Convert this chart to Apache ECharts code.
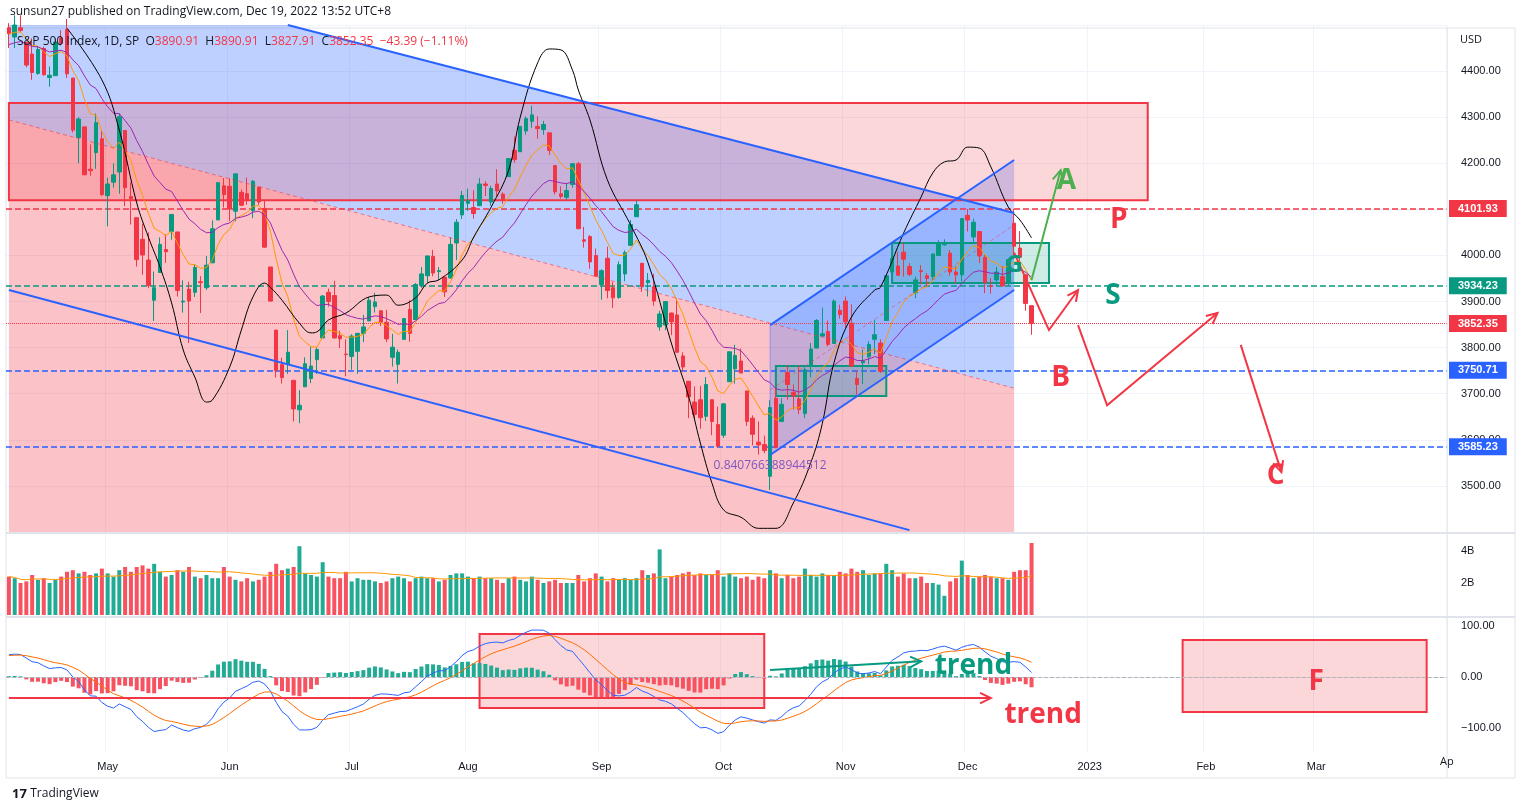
<!DOCTYPE html>
<html><head><meta charset="utf-8">
<script src="https://cdn.jsdelivr.net/npm/echarts@6/dist/echarts.min.js"></script>
<style>html,body{margin:0;padding:0;background:#fff}#c{width:1526px;height:811px}</style>
</head><body><div id="c"></div>
<script>
const dates=['2022-04-06','2022-04-07','2022-04-08','2022-04-11','2022-04-12','2022-04-13','2022-04-14','2022-04-18','2022-04-19','2022-04-20','2022-04-21','2022-04-22','2022-04-25','2022-04-26','2022-04-27','2022-04-28','2022-04-29',
'2022-05-02','2022-05-03','2022-05-04','2022-05-05','2022-05-06','2022-05-09','2022-05-10','2022-05-11','2022-05-12','2022-05-13','2022-05-16','2022-05-17','2022-05-18','2022-05-19','2022-05-20','2022-05-23','2022-05-24','2022-05-25','2022-05-26','2022-05-27','2022-05-31',
'2022-06-01','2022-06-02','2022-06-03','2022-06-06','2022-06-07','2022-06-08','2022-06-09','2022-06-10','2022-06-13','2022-06-14','2022-06-15','2022-06-16','2022-06-17','2022-06-21','2022-06-22','2022-06-23','2022-06-24','2022-06-27','2022-06-28','2022-06-29','2022-06-30',
'2022-07-01','2022-07-05','2022-07-06','2022-07-07','2022-07-08','2022-07-11','2022-07-12','2022-07-13','2022-07-14','2022-07-15','2022-07-18','2022-07-19','2022-07-20','2022-07-21','2022-07-22','2022-07-25','2022-07-26','2022-07-27','2022-07-28','2022-07-29',
'2022-08-01','2022-08-02','2022-08-03','2022-08-04','2022-08-05','2022-08-08','2022-08-09','2022-08-10','2022-08-11','2022-08-12','2022-08-15','2022-08-16','2022-08-17','2022-08-18','2022-08-19','2022-08-22','2022-08-23','2022-08-24','2022-08-25','2022-08-26','2022-08-29','2022-08-30','2022-08-31',
'2022-09-01','2022-09-02','2022-09-06','2022-09-07','2022-09-08','2022-09-09','2022-09-12','2022-09-13','2022-09-14','2022-09-15','2022-09-16','2022-09-19','2022-09-20','2022-09-21','2022-09-22','2022-09-23','2022-09-26','2022-09-27','2022-09-28','2022-09-29','2022-09-30',
'2022-10-03','2022-10-04','2022-10-05','2022-10-06','2022-10-07','2022-10-10','2022-10-11','2022-10-12','2022-10-13','2022-10-14','2022-10-17','2022-10-18','2022-10-19','2022-10-20','2022-10-21','2022-10-24','2022-10-25','2022-10-26','2022-10-27','2022-10-28','2022-10-31',
'2022-11-01','2022-11-02','2022-11-03','2022-11-04','2022-11-07','2022-11-08','2022-11-09','2022-11-10','2022-11-11','2022-11-14','2022-11-15','2022-11-16','2022-11-17','2022-11-18','2022-11-21','2022-11-22','2022-11-23','2022-11-25','2022-11-28','2022-11-29','2022-11-30',
'2022-12-01','2022-12-02','2022-12-05','2022-12-06','2022-12-07','2022-12-08','2022-12-09','2022-12-12','2022-12-13','2022-12-14','2022-12-15','2022-12-16'];
const opens=[4494,4474,4494,4462,4437,4395,4449,4386,4390,4472,4490,4385,4256,4279,4187,4223,4253,
4130,4159,4181,4271,4128,4082,4035,3990,3903,3963,4013,4052,4051,3899,3927,3920,3943,3930,3984,4077,4151,
4150,4096,4137,4134,4097,4148,4102,3975,3838,3763,3764,3729,3665,3715,3733,3774,3821,3920,3913,3826,3786,
3781,3792,3831,3858,3889,3880,3855,3779,3764,3818,3883,3861,3935,3956,3998,3965,3953,3951,4027,4088,
4113,4104,4108,4155,4116,4155,4133,4171,4228,4225,4270,4291,4280,4273,4266,4195,4134,4126,4154,4199,4034,4041,4000,
3937,3994,3930,3909,3960,4022,4084,3983,3941,3932,3845,3849,3875,3871,3782,3727,3682,3687,3651,3687,3633,
3610,3726,3754,3771,3706,3647,3595,3590,3521,3690,3640,3746,3703,3689,3657,3762,3799,3825,3835,3809,3881,
3901,3853,3733,3767,3780,3818,3810,3859,3964,3977,4007,3976,3919,3967,3956,3954,4000,4023,4005,3964,3958,
4087,4040,4052,3996,3934,3947,3954,3939,4070,4016,3958,3891];
const highs=[4504,4521,4521,4464,4471,4453,4453,4410,4471,4489,4513,4385,4300,4279,4241,4308,4270,
4169,4200,4308,4271,4158,4082,4069,4050,3965,4039,4046,4090,4051,3946,3943,3981,3955,3999,4076,4158,4168,
4167,4177,4143,4169,4164,4150,4120,3975,3838,3778,3838,3729,3708,3779,3802,3801,3914,3928,3945,3837,3818,
3829,3832,3871,3910,3919,3880,3882,3830,3796,3864,3903,3940,3975,3999,4012,3975,3953,4039,4079,4140,
4145,4141,4168,4161,4151,4187,4137,4211,4258,4280,4302,4325,4302,4292,4266,4195,4150,4157,4200,4203,4062,4044,4015,
3970,4019,3942,3987,4011,4077,4119,3984,3962,3960,3880,3900,3876,3907,3790,3727,3716,3717,3736,3687,3672,
3680,3791,3806,3798,3706,3653,3640,3609,3686,3713,3690,3762,3720,3762,3757,3810,3862,3887,3859,3905,3893,
3911,3894,3750,3796,3814,3860,3818,3956,4001,4008,4028,3983,3954,3979,3962,4004,4033,4035,4012,3976,4080,
4101,4080,4052,4001,3951,3975,3977,3990,4101,4053,3958,3891];
const lows=[4450,4450,4485,4408,4381,4392,4390,4366,4390,4455,4385,4267,4200,4175,4173,4188,4129,
4063,4147,4134,4107,4067,3976,3958,3929,3858,3963,3984,4034,3911,3876,3810,3910,3875,3925,3984,4077,4104,
4074,4074,4107,4110,4081,4110,4017,3900,3735,3722,3743,3640,3636,3715,3723,3743,3821,3889,3820,3799,3738,
3752,3743,3812,3858,3876,3847,3812,3759,3722,3818,3813,3860,3930,3940,3955,3947,3910,3951,3990,4079,
4097,4080,4108,4129,4108,4128,4112,4171,4201,4225,4262,4277,4253,4262,4218,4132,4123,4121,4147,4057,4017,3971,3954,
3904,3907,3886,3906,3944,4022,4084,3921,3911,3891,3837,3838,3827,3789,3749,3647,3644,3624,3641,3610,3584,
3604,3726,3722,3745,3630,3588,3568,3571,3491,3582,3640,3687,3666,3656,3647,3736,3799,3824,3803,3809,3863,
3843,3758,3698,3721,3764,3786,3745,3859,3944,3957,3954,3955,3907,3937,3933,3947,3999,4021,3956,3938,3944,
4052,4026,3984,3918,3917,3935,3933,3935,3993,3966,3880,3828];
const closes=[4481,4500,4488,4413,4397,4447,4392,4391,4463,4460,4394,4272,4296,4175,4184,4288,4132,
4155,4175,4301,4147,4123,3991,4001,3935,3930,4024,4008,4089,3924,3901,3901,3974,3941,3979,4058,4158,4132,
4101,4177,4109,4121,4161,4116,4018,3901,3750,3735,3790,3667,3675,3765,3760,3796,3912,3900,3821,3819,3785,
3825,3831,3845,3903,3899,3855,3819,3801,3790,3863,3831,3937,3960,3999,3962,3967,3921,4024,4072,4130,
4119,4091,4155,4152,4145,4140,4122,4210,4208,4280,4297,4305,4275,4284,4228,4138,4128,4141,4199,4058,4031,3986,3955,
3967,3924,3908,3980,4006,4067,4110,3932,3946,3901,3873,3900,3856,3790,3758,3693,3655,3648,3720,3640,3586,
3678,3791,3783,3745,3640,3612,3589,3577,3670,3583,3677,3720,3695,3666,3752,3797,3859,3830,3807,3901,3872,
3856,3760,3720,3771,3807,3828,3749,3956,3993,3957,3992,3959,3947,3965,3950,4003,4027,4026,3964,3958,4080,
4077,4072,3999,3941,3933,3964,3934,3991,4020,3996,3896,3852.35];
const volumesB=[2.4,2.3,2.0,2.1,2.5,2.2,2.3,2.0,2.2,2.4,2.7,2.8,2.6,2.7,2.5,2.6,2.9,
2.6,2.4,2.8,3.0,2.7,3.0,3.1,2.9,3.2,2.7,2.4,2.5,2.8,2.7,3.0,2.4,2.3,2.5,2.3,2.3,3.0,
2.4,2.2,2.1,2.3,2.1,2.2,2.4,2.7,3.2,2.8,2.9,3.0,4.3,2.6,2.5,2.4,3.3,2.4,2.3,2.3,2.7,
2.1,2.3,2.2,2.2,2.1,2.0,2.1,2.3,2.4,2.3,2.1,2.3,2.4,2.3,2.3,2.1,2.2,2.5,2.6,2.6,
2.4,2.3,2.4,2.3,2.3,2.2,2.0,2.3,2.4,2.2,2.1,2.4,2.2,2.0,2.1,2.2,2.0,2.0,2.0,2.5,2.1,2.3,2.6,
2.4,2.1,2.3,2.2,2.3,2.2,2.3,2.8,2.5,2.6,4.1,2.3,2.4,2.5,2.6,2.7,2.5,2.6,2.5,2.5,2.8,
2.4,2.6,2.4,2.3,2.4,2.2,2.4,2.3,2.8,2.6,2.3,2.5,2.3,2.4,2.9,2.5,2.4,2.6,2.5,2.5,2.7,
2.6,2.9,2.7,2.8,2.5,2.6,2.6,3.2,2.8,2.4,2.6,2.3,2.3,2.4,2.0,2.0,1.9,1.2,2.1,2.3,3.4,
2.5,2.3,2.4,2.5,2.4,2.3,2.3,2.2,2.7,2.8,2.8,4.5];
// overlay black curve: [bar index, price]
const curve=[[10,4493],[16,4381],[19,4272],[22,4114],[24,4040],[26,3975],[28,3897],[30,3795],[32,3736],[34,3682],[35,3686],[38,3758],[40,3838],[42,3910],[44,3940],[45,3931],[47,3903],[50,3853],[52,3832],[53,3834],[55,3860],[58,3875],[62,3910],[65,3914],[67,3892],[70,3908],[72,3940],[74,3947],[78,3990],[80,4040],[83,4105],[86,4185],[88,4300],[91,4418],[93,4448],[95,4446],[97,4402],[98,4359],[100,4294],[103,4164],[107,4066],[110,3984],[114,3810],[117,3693],[119,3593],[121,3506],[123,3448],[126,3432],[129,3408],[132,3408],[135,3463],[138,3550],[140,3636],[142,3767],[145,3866],[149,3925],[150,3931],[154,4049],[157,4127],[159,4179],[161,4203],[163,4207],[165,4235],[167,4233],[169,4192],[172,4105],[174,4077],[176,4038]];
const levels=[{v:4101.93,c:'#f23645',t:'dashed',w:1.5},{v:3934.23,c:'#089981',t:'dashed',w:1.5},{v:3750.71,c:'#2962ff',t:'dashed',w:1.5},{v:3585.23,c:'#2962ff',t:'dashed',w:1.5},{v:3852.35,c:'#f23645',t:'dotted',w:1}];
const holidays=['2022-12-26','2023-01-02','2023-01-16','2023-02-20'];

const cats=dates.slice();
(function(){let d=new Date(Date.UTC(2022,11,19));while(cats.length<248){const s=d.toISOString().slice(0,10);const w=d.getUTCDay();if(w!==0&&w!==6&&holidays.indexOf(s)<0)cats.push(s);d=new Date(d.getTime()+86400000);}})();
const monthStart=i=>i===0?false:cats[i].slice(0,7)!==cats[i-1].slice(0,7);
const MN=['Jan','Feb','Mar','Apr','May','Jun','Jul','Aug','Sep','Oct','Nov','Dec'];

function ema(arr,n,seed){const k=2/(n+1);let p=seed;return arr.map(v=>(p=v*k+p*(1-k)));}
const ema9=ema(closes,9,4480), ema20=ema(closes,20,4455);
const e12=ema(closes,12,4440), e26=ema(closes,26,4396);
const macd=e12.map((v,i)=>v-e26[i]);
const sig=ema(macd,9,42);
const hist=macd.map((v,i)=>v-sig[i]);
const volMA=volumesB.map((v,i)=>{const a=volumesB.slice(Math.max(0,i-19),i+1);return a.reduce((s,x)=>s+x,0)/a.length;});

const UP='#089981',DN='#f23645';
const chart=echarts.init(document.getElementById('c'));
const grids=[{left:6,right:79,top:25,height:507},{left:6,right:79,top:535,height:80},{left:6,right:79,top:601,height:152}];
const xAx=gi=>({type:'category',gridIndex:gi,data:cats,boundaryGap:true,axisTick:{show:false},axisLine:{show:gi===2,lineStyle:{color:'#e0e3eb'}},
 splitLine:{show:true,interval:(i)=>monthStart(i),lineStyle:{color:'#f0f3fa'}},
 axisLabel:{show:gi===2,interval:(i)=>monthStart(i),color:'#131722',fontSize:11,margin:8,formatter:v=>{const m=+v.slice(5,7);return m===1?v.slice(0,4):MN[m-1];}}});
const fmtR=v=>v<0?'\u2212'+Math.abs(v).toFixed(2):v.toFixed(2);
const option={animation:false,
 grid:grids,
 xAxis:[xAx(0),xAx(1),xAx(2)],
 yAxis:[
  {gridIndex:0,position:'right',min:3400,max:4500,interval:100,axisLine:{show:false},axisTick:{show:false},splitLine:{lineStyle:{color:'#f0f3fa'}},
   axisLabel:{color:'#131722',fontSize:11,margin:14,formatter:v=>(v<3500||v>4400)?'':v.toFixed(2)}},
  {gridIndex:1,position:'right',min:0,max:5,interval:1,axisLine:{show:false},axisTick:{show:false},splitLine:{show:false},
   axisLabel:{color:'#131722',fontSize:11,margin:14,formatter:v=>(v===2||v===4)?v+'B':''}},
  {gridIndex:2,position:'right',min:-150,max:150,interval:50,axisLine:{show:false},axisTick:{show:false},splitLine:{show:false},
   axisLabel:{color:'#131722',fontSize:11,margin:14,formatter:v=>(v===100||v===0||v===-100)?fmtR(v):''}}],
 series:[
  {type:'candlestick',xAxisIndex:0,yAxisIndex:0,barWidth:4,z:5,
   data:dates.map((d,i)=>[opens[i],closes[i],lows[i],highs[i]]),
   itemStyle:{color:UP,color0:DN,borderColor:UP,borderColor0:DN,borderWidth:1},
   markLine:{silent:true,symbol:['none','none'],data:levels.map(l=>({yAxis:l.v,lineStyle:{color:l.c,type:l.t,width:l.w},
     label:{show:true,position:'end',distance:2,formatter:l.v.toFixed(2),color:'#fff',backgroundColor:l.c,padding:[3,9,3,9],fontSize:11,fontWeight:'bold'}}))}},
  {type:'line',xAxisIndex:0,yAxisIndex:0,data:ema9,showSymbol:false,lineStyle:{color:'#ff9800',width:1},z:6},
  {type:'line',xAxisIndex:0,yAxisIndex:0,data:ema20,showSymbol:false,lineStyle:{color:'#9c27b0',width:1},z:6},
  {type:'line',xAxisIndex:0,yAxisIndex:0,data:curve,smooth:0.4,showSymbol:false,lineStyle:{color:'#000',width:1},z:7},
  {type:'bar',xAxisIndex:1,yAxisIndex:1,barWidth:4,data:volumesB.map((v,i)=>({value:v,itemStyle:{color:closes[i]>=opens[i]?'#22ab94':'#f7525f'}}))},
  {type:'line',xAxisIndex:1,yAxisIndex:1,data:volMA,showSymbol:false,lineStyle:{color:'#ff9800',width:1}},
  {type:'bar',xAxisIndex:2,yAxisIndex:2,barWidth:4,data:hist.map(v=>({value:v,itemStyle:{color:v>=0?'#22ab94':'#f7525f'}})),
   markLine:{silent:true,symbol:['none','none'],label:{show:false},data:[{yAxis:0}],lineStyle:{color:'#b2b5be',type:'dashed',width:1}}},
  {type:'line',xAxisIndex:2,yAxisIndex:2,data:macd,showSymbol:false,lineStyle:{color:'#2962ff',width:1}},
  {type:'line',xAxisIndex:2,yAxisIndex:2,data:sig,showSymbol:false,lineStyle:{color:'#ff6d00',width:1}}
 ]};
chart.setOption(option);

const P=(g,p)=>chart.convertToPixel({gridIndex:g},p);
const G=[];
function poly(g,pts,fill,z){G.push({type:'polygon',z:z,silent:true,shape:{points:pts.map(p=>P(g,p))},style:{fill:fill}});}
function line(g,pts,color,w,dash,z){G.push({type:'polyline',z:z||50,silent:true,shape:{points:pts.map(p=>P(g,p))},style:{stroke:color,lineWidth:w,lineDash:dash||null,fill:null}});}
function rect(g,a,b,fill,stroke,z){const p1=P(g,a),p2=P(g,b);G.push({type:'rect',z:z||1,silent:true,shape:{x:Math.min(p1[0],p2[0]),y:Math.min(p1[1],p2[1]),width:Math.abs(p2[0]-p1[0]),height:Math.abs(p2[1]-p1[1])},style:{fill:fill,stroke:stroke,lineWidth:2}});}
function arrow(g,pts,color,w){line(g,pts,color,w,null,60);const px=pts.map(p=>P(g,p));const e=px[px.length-1],s=px[px.length-2];const a=Math.atan2(e[1]-s[1],e[0]-s[0]),L=12;
 G.push({type:'polyline',z:60,silent:true,shape:{points:[[e[0]-L*Math.cos(a-0.45),e[1]-L*Math.sin(a-0.45)],e,[e[0]-L*Math.cos(a+0.45),e[1]-L*Math.sin(a+0.45)]]},style:{stroke:color,lineWidth:w,fill:null}});}
function text(g,p,str,color,size,extra){const q=P(g,p);G.push({type:'text',z:70,silent:true,x:q[0],y:q[1],style:{text:str,fill:color,font:(extra||'')+' '+size+'px "Open Sans", sans-serif',align:'center',verticalAlign:'middle'}});}

poly(0,[[-0.5,4500],[48,4500],[173.2,4092],[173.2,3712],[-0.5,4294]],'rgba(41,98,255,0.3)',1);
poly(0,[[-0.5,4294],[173.2,3712],[173.2,3400],[-0.5,3400]],'rgba(242,54,69,0.3)',1);
poly(0,[[131,3849],[173.2,4207],[173.2,3925],[131,3567]],'rgba(41,98,255,0.25)',1);
rect(0,[-0.5,4331],[196,4120],'rgba(242,54,69,0.2)','#f23645',2);
line(0,[[48,4500],[173.2,4092]],'#2962ff',2);
line(0,[[-0.5,3925],[155,3404]],'#2962ff',2);
line(0,[[-0.5,4294],[173.2,3712]],'rgba(242,54,69,0.6)',1,[4,3]);
line(0,[[131,3849],[173.2,4207]],'#2962ff',2);
line(0,[[131,3567],[173.2,3925]],'#2962ff',2);
line(0,[[131,3567],[131,3849]],'rgba(41,98,255,0.4)',1);
line(0,[[131,3708],[173.2,4066]],'rgba(242,54,69,0.5)',1,[4,3]);
rect(0,[132,3760],[151,3695],'rgba(8,153,129,0.2)','#089981',3);
rect(0,[151.8,4027],[179.2,3940],'rgba(8,153,129,0.2)','#089981',3);
arrow(0,[[175.7,3947],[180.9,4185]],'#4caf50',2);
arrow(0,[[173.2,4006],[179.2,3838],[184,3925]],'#f23645',2);
arrow(0,[[183.5,3849],[188.6,3675],[208,3875]],'#f23645',2);
arrow(0,[[211.9,3806],[218.8,3530]],'#f23645',2);
text(0,[182.4,4162],'A','#4caf50',28,'bold');
text(0,[190.5,4076],'P','#f23645',28,'bold');
text(0,[190,3911],'S','#089981',28,'bold');
text(0,[181.4,3735],'B','#f23645',28,'bold');
text(0,[217.5,3522],'C','#f23645',28,'bold');
text(0,[172.7,3978],'G','#089981',24,'bold');
text(0,[131,3545],'0.840766388944512','#7e57c2',12);
rect(2,[81.1,85],[130.3,-61],'rgba(242,54,69,0.2)','#f23645',1);
rect(2,[201.9,73],[244,-69],'rgba(242,54,69,0.2)','#f23645',1);
text(2,[224.5,-10],'F','#f23645',28,'bold');
arrow(2,[[0,-41.6],[168.8,-41.6]],'#f23645',2);
arrow(2,[[131,14],[156.8,31]],'#089981',2);
text(2,[165.5,22],'trend','#089981',28,'bold');
text(2,[178,-76],'trend','#f23645',28,'bold');

G.push({type:'rect',z:0,silent:true,shape:{x:6,y:28,width:1509,height:750},style:{fill:null,stroke:'#e0e3eb',lineWidth:1}});
G.push({type:'line',z:80,silent:true,shape:{x1:6,y1:533,x2:1515,y2:533},style:{stroke:'#e0e3eb',lineWidth:2}});
G.push({type:'line',z:80,silent:true,shape:{x1:6,y1:617,x2:1515,y2:617},style:{stroke:'#e0e3eb',lineWidth:2}});
G.push({type:'line',z:80,silent:true,shape:{x1:1447,y1:28,x2:1447,y2:778},style:{stroke:'#e0e3eb',lineWidth:1}});
G.push({type:'text',z:90,x:10,y:12,style:{text:'sunsun27 published on TradingView.com, Dec 19, 2022 13:52 UTC+8',fill:'#131722',font:'12px "Open Sans", sans-serif',verticalAlign:'middle'}});
G.push({type:'text',z:90,x:17,y:42,style:{rich:{a:{fill:'#131722',font:'12px "Open Sans", sans-serif'},r:{fill:'#f23645',font:'12px "Open Sans", sans-serif'}},
 text:'{a|S&P 500 Index, 1D, SP  O}{r|3890.91}{a|  H}{r|3890.91}{a|  L}{r|3827.91}{a|  C}{r|3852.35  \u221243.39 (\u22121.11%)}',verticalAlign:'middle'}});
G.push({type:'text',z:90,x:1460,y:40,style:{text:'USD',fill:'#131722',font:'11px "Open Sans", sans-serif',verticalAlign:'middle'}});
G.push({type:'text',z:90,x:1440,y:762,style:{text:'Ap',fill:'#131722',font:'11px "Open Sans", sans-serif',verticalAlign:'middle'}});
G.push({type:'text',z:90,x:12,y:794,style:{rich:{l:{fill:'#131722',font:'bold 13px "Open Sans", sans-serif'},t:{fill:'#131722',font:'12px "Open Sans", sans-serif'}},text:'{l|17} {t|TradingView}',verticalAlign:'middle'}});
chart.setOption({graphic:G});
</script></body></html>
